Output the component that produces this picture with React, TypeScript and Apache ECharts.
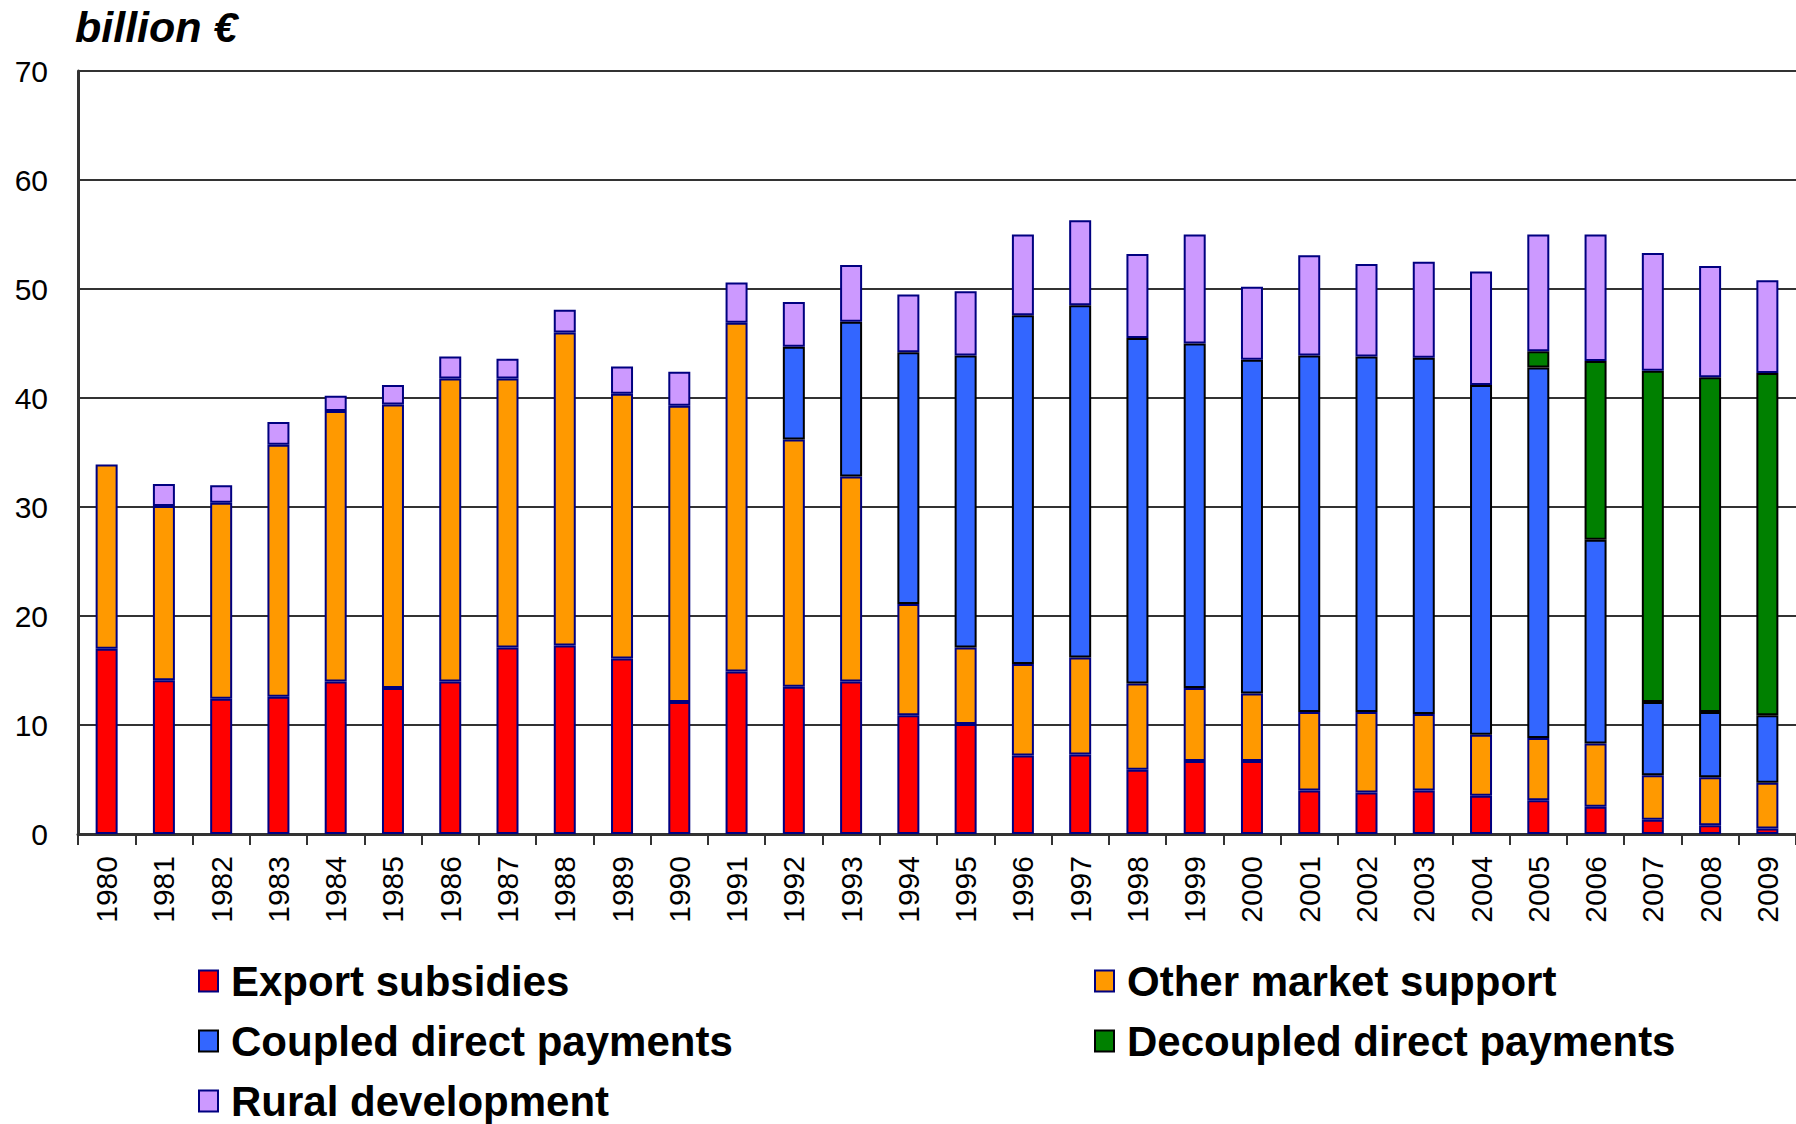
import React, { useEffect, useRef } from "react";
import * as echarts from "echarts";

const years = [
  "1980", "1981", "1982", "1983", "1984", "1985", "1986", "1987", "1988", "1989",
  "1990", "1991", "1992", "1993", "1994", "1995", "1996", "1997", "1998", "1999",
  "2000", "2001", "2002", "2003", "2004", "2005", "2006", "2007", "2008", "2009",
];

const exportSubsidies = [
  17.0, 14.1, 12.4, 12.6, 14.0, 13.4, 14.0, 17.1, 17.3, 16.1,
  12.1, 14.9, 13.5, 14.0, 10.9, 10.1, 7.2, 7.3, 5.9, 6.7,
  6.7, 4.0, 3.8, 4.0, 3.5, 3.1, 2.5, 1.3, 0.8, 0.5,
];

const otherMarketSupport = [
  16.9, 16.0, 18.0, 23.1, 24.8, 26.0, 27.8, 24.7, 28.7, 24.3,
  27.2, 32.0, 22.7, 18.8, 10.2, 7.0, 8.4, 8.9, 7.9, 6.7,
  6.2, 7.2, 7.4, 7.0, 5.6, 5.7, 5.8, 4.1, 4.4, 4.2,
];

const coupledDirectPayments = [
  null, null, null, null, null, null, null, null, null, null,
  null, null, 8.5, 14.2, 23.1, 26.8, 32.0, 32.3, 31.7, 31.6,
  30.6, 32.7, 32.6, 32.7, 32.1, 34.0, 18.7, 6.7, 6.0, 6.2,
];

const decoupledDirectPayments = [
  null, null, null, null, null, null, null, null, null, null,
  null, null, null, null, null, null, null, null, null, null,
  null, null, null, null, null, 1.5, 16.4, 30.4, 30.7, 31.4,
];

const ruralDevelopment = [
  null, 2.0, 1.6, 2.1, 1.4, 1.8, 2.0, 1.8, 2.1, 2.5,
  3.1, 3.7, 4.1, 5.2, 5.3, 5.9, 7.4, 7.8, 7.7, 10.0,
  6.7, 9.2, 8.5, 8.8, 10.4, 10.7, 11.6, 10.8, 10.2, 8.5,
];

const seriesNames = [
  "Export subsidies",
  "Other market support",
  "Coupled direct payments",
  "Decoupled direct payments",
  "Rural development",
];
const seriesData = [
  exportSubsidies,
  otherMarketSupport,
  coupledDirectPayments,
  decoupledDirectPayments,
  ruralDevelopment,
];
const seriesColors = ["#FF0000", "#FF9900", "#3366FF", "#008000", "#CC99FF"];
const seriesBorders = ["#000080", "#000080", "#000000", "#000000", "#000080"];

const FONT = "'Liberation Sans', Arial, Helvetica, sans-serif";

export default function App() {
  const ref = useRef<HTMLDivElement>(null);

  useEffect(() => {
    if (!ref.current) return;
    const chart = echarts.init(ref.current, undefined, { renderer: "svg" });

    const legendEntry = (i: number) => ({
      name: seriesNames[i],
      itemStyle: { color: seriesColors[i], borderColor: seriesBorders[i], borderWidth: 2 },
    });

    const legendCommon = {
      orient: "vertical" as const,
      icon: "rect",
      itemWidth: 19,
      itemHeight: 21,
      itemGap: 18,
      padding: 0,
      height: 170,
      selectedMode: false,
      textStyle: {
        fontFamily: FONT,
        fontSize: 42,
        fontWeight: "bold" as const,
        color: "#000",
        lineHeight: 42,
        padding: [0, 0, 0, 8],
      },
    };

    chart.setOption({
      animation: false,
      backgroundColor: "#ffffff",
      title: {
        text: "billion €",
        left: 70,
        top: 0,
        textStyle: {
          fontFamily: FONT,
          fontSize: 43,
          fontWeight: "bold",
          fontStyle: "italic",
          color: "#000",
        },
      },
      legend: [
        {
          ...legendCommon,
          left: 198,
          top: 960,
          data: [legendEntry(0), legendEntry(2), legendEntry(4)],
        },
        {
          ...legendCommon,
          left: 1094,
          top: 960,
          data: [legendEntry(1), legendEntry(3)],
        },
      ],
      grid: {
        left: 78,
        top: 71,
        width: 1723,
        height: 763,
        containLabel: false,
      },
      xAxis: {
        type: "category",
        data: years,
        boundaryGap: true,
        axisLine: { show: true, lineStyle: { color: "#333", width: 3 } },
        axisTick: { show: true, length: 11, lineStyle: { color: "#333", width: 2 } },
        axisLabel: {
          rotate: 90,
          margin: 22,
          fontFamily: FONT,
          fontSize: 30,
          color: "#000",
          interval: 0,
        },
        splitLine: { show: false },
      },
      yAxis: {
        type: "value",
        min: 0,
        max: 70,
        interval: 10,
        axisLine: { show: true, lineStyle: { color: "#333", width: 3 } },
        axisTick: { show: false },
        axisLabel: {
          margin: 30,
          fontFamily: FONT,
          fontSize: 30,
          color: "#000",
        },
        splitLine: { show: true, lineStyle: { color: "#333", width: 2 } },
      },
      series: seriesNames.map((name, i) => ({
        name,
        type: "bar",
        stack: "total",
        barWidth: 22,
        data: seriesData[i],
        itemStyle: {
          color: seriesColors[i],
          borderColor: seriesBorders[i],
          borderWidth: 2,
        },
      })),
    });

    return () => chart.dispose();
  }, []);

  return (
    <div
      ref={ref}
      style={{ position: "absolute", left: 0, top: 0, width: 1796, height: 1124 }}
    />
  );
}
